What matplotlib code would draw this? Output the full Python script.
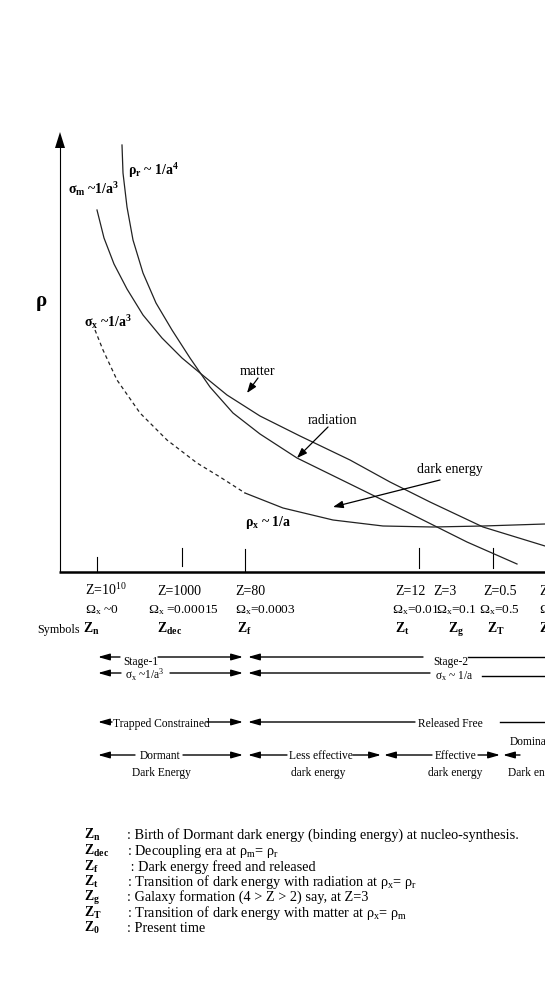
import matplotlib
matplotlib.use('agg')
import matplotlib.pyplot as plt

plt.rcParams['font.family'] = ['Liberation Serif', 'DejaVu Serif']
plt.rcParams['mathtext.fontset'] = 'custom'
plt.rcParams['mathtext.rm'] = 'Liberation Serif'
plt.rcParams['mathtext.it'] = 'Liberation Serif:italic'
plt.rcParams['mathtext.bf'] = 'Liberation Serif:bold'
plt.rcParams['mathtext.default'] = 'regular'

W, H = 545, 981

# curves (pixel units, y down)
radiation_x = [122, 123, 127, 133, 143, 156, 172, 190, 210, 233, 260, 297, 350, 407, 467, 517]
radiation_y = [145, 173, 207, 240, 273, 303, 330, 358, 387, 413, 434, 458, 484, 512, 542, 564]
matter_x = [97, 104, 114, 127, 143, 162, 182, 200, 227, 260, 300, 350, 390, 430, 483, 545]
matter_y = [210, 238, 264, 289, 315, 338, 358, 373, 395, 416, 436, 460, 482, 502, 527, 546]
dark_trap_x = [95, 103, 117, 140, 167, 197, 220, 245]
dark_trap_y = [330, 350, 380, 413, 440, 463, 477, 493]
dark_free_x = [245, 283, 333, 383, 433, 483, 545]
dark_free_y = [493, 508, 520, 526, 527, 526, 524]

tick_x = [97, 182, 245, 419, 493]
tick_top = [557, 548, 549, 548, 548]
tick_bot = [572, 566, 572, 568, 568]

redshift_x = [85, 157, 235, 395, 433, 483, 539]
redshift_lbl = ['Z=10$^{10}$', 'Z=1000', 'Z=80', 'Z=12', 'Z=3', 'Z=0.5', 'Z=0']
omega_x = [85, 148, 235, 392, 436, 479, 539]
omega_lbl = ['Ω$_x$ ~0', 'Ω$_x$ =0.00015', 'Ω$_x$=0.0003', 'Ω$_x$=0.01',
             'Ω$_x$=0.1', 'Ω$_x$=0.5', 'Ω$_x$=0.7']
symbol_x = [83, 157, 237, 395, 448, 487, 539]
symbol_lbl = ['Z$_n$', 'Z$_{dec}$', 'Z$_f$', 'Z$_t$', 'Z$_g$', 'Z$_T$', 'Z$_0$']

# arrow rows: (y, tail x, head x); plain lines run off the right edge
arrows = [(657, 120, 98), (657, 158, 243), (657, 423, 248),
          (673, 121, 98), (673, 170, 243), (673, 430, 248),
          (722, 112, 98), (722, 207, 243), (722, 415, 248),
          (755, 135, 98), (755, 183, 243), (755, 287, 248), (755, 353, 381),
          (755, 432, 384), (755, 478, 500), (755, 520, 503)]
plain_lines = [(657, 468, 545), (676, 482, 545), (722, 500, 545)]

row_text = [(123, 665, 'Stage-1'), (433, 665, 'Stage-2'),
            (125, 679, 'σ$_x$ ~1/a$^3$'), (435, 679, 'σ$_x$ ~ 1/a'),
            (113, 727, 'Trapped Constrained'), (418, 727, 'Released Free'),
            (140, 759, 'Dormant'), (132, 776, 'Dark Energy'),
            (289, 759, 'Less effective'), (291, 776, 'dark energy'),
            (435, 759, 'Effective'), (428, 776, 'dark energy'),
            (510, 745, 'Dominant'), (508, 776, 'Dark energy')]

key_sym = ['Z$_n$', 'Z$_{dec}$', 'Z$_f$', 'Z$_t$', 'Z$_g$', 'Z$_T$', 'Z$_0$']
key_txt = [': Birth of Dormant dark energy (binding energy) at nucleo-synthesis.',
           ': Decoupling era at ρ$_m$= ρ$_r$',
           ' : Dark energy freed and released',
           ': Transition of dark energy with radiation at ρ$_x$= ρ$_r$',
           ': Galaxy formation (4 > Z > 2) say, at Z=3',
           ': Transition of dark energy with matter at ρ$_x$= ρ$_m$',
           ': Present time']
key_y = [839, 855, 871, 886, 901, 917, 932]

fig = plt.figure(figsize=(W / 100, H / 100), dpi=100)
ax = fig.add_axes([0, 0, 1, 1])
ax.set_xlim(0, W)
ax.set_ylim(H, 0)
ax.axis('off')

# axes of the sketch
ax.plot([60, 60], [146, 572], color='k', lw=0.8)
ax.fill([55, 60, 65], [148, 132, 148], color='k', lw=0)
ax.plot([59, 545], [572, 572], color='k', lw=1.8, solid_capstyle='butt')
for x, t, b in zip(tick_x, tick_top, tick_bot):
    ax.plot([x, x], [t, b], color='k', lw=0.8)
ax.text(36, 306, 'ρ', fontsize=15, fontweight='bold')

# curves
ax.plot(radiation_x, radiation_y, color='#222222', lw=0.9)
ax.plot(matter_x, matter_y, color='#222222', lw=0.9)
ax.plot(dark_trap_x, dark_trap_y, color='#222222', lw=0.9, ls=(0, (3, 2.5)))
ax.plot(dark_free_x, dark_free_y, color='#222222', lw=0.9)

bold = dict(fontsize=10, fontweight='bold')
ax.text(128, 175, 'ρ$_r$ ~ 1/a$^4$', **bold)
ax.text(68, 194, 'σ$_m$ ~1/a$^3$', **bold)
ax.text(84, 327, 'σ$_x$ ~1/a$^3$', **bold)
ax.text(245, 526, 'ρ$_x$ ~ 1/a', **bold)

head = dict(arrowstyle='-|>,head_length=0.6,head_width=0.22', color='k', lw=0.9,
            shrinkA=0, shrinkB=0)
ax.text(240, 375, 'matter', fontsize=10)
ax.annotate('', xy=(247, 393), xytext=(258, 378), arrowprops=head)
ax.text(308, 424, 'radiation', fontsize=10)
ax.annotate('', xy=(297, 458), xytext=(328, 427), arrowprops=head)
ax.text(417, 473, 'dark energy', fontsize=10)
ax.annotate('', xy=(333, 507), xytext=(440, 480), arrowprops=head)

# redshift rows
for x, s in zip(redshift_x, redshift_lbl):
    ax.text(x, 595, s, fontsize=10)
for x, s in zip(omega_x, omega_lbl):
    ax.text(x, 613, s, fontsize=9.6)
ax.text(37, 633, 'Symbols', fontsize=8.7)
for x, s in zip(symbol_x, symbol_lbl):
    ax.text(x, 633, s, fontsize=10, fontweight='bold')

# stage arrows
row_head = dict(arrowstyle='-|>,head_length=0.7,head_width=0.2', color='k', lw=1.0,
                shrinkA=0, shrinkB=0)
for y, x0, x1 in arrows:
    ax.annotate('', xy=(x1, y), xytext=(x0, y), arrowprops=row_head)
for y, x0, x1 in plain_lines:
    ax.plot([x0, x1], [y, y], color='k', lw=1.0)
for x, y, s in row_text:
    ax.text(x, y, s, fontsize=8.3)

# key
for y, s, t in zip(key_y, key_sym, key_txt):
    ax.text(84, y, s, fontsize=10, fontweight='bold')
    ax.text(127, y, t, fontsize=10.3)

fig.savefig('out.png', dpi=100)
